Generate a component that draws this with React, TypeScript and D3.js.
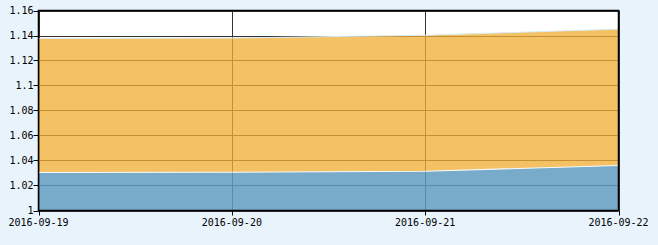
import React from "react";
import * as d3 from "d3";

const dates = ["2016-09-19", "2016-09-20", "2016-09-21", "2016-09-22"];
const unitNav = [1.1376, 1.138, 1.1402, 1.1451];
const accNav = [1.0304, 1.0306, 1.0314, 1.036];
const yTicks = [1, 1.02, 1.04, 1.06, 1.08, 1.1, 1.12, 1.14, 1.16];

const W = 658, H = 245;
const L = 38.5, R = 618.5, T = 10.5, B = 210.5;

export default function App() {
  const parse = d3.timeParse("%Y-%m-%d");
  const xs = dates.map((d) => parse(d) as Date);
  const x = d3.scaleTime().domain(d3.extent(xs) as [Date, Date]).range([L, R]);
  const y = d3.scaleLinear().domain([1, 1.16]).range([B, T]);
  const idx = dates.map((_, i) => i);

  const orangeArea = d3.area<number>()
    .x((i) => x(xs[i]))
    .y0((i) => y(accNav[i]))
    .y1((i) => y(unitNav[i]));
  const blueArea = d3.area<number>()
    .x((i) => x(xs[i]))
    .y0(B)
    .y1((i) => y(accNav[i]));
  const orangeLine = d3.line<number>().x((i) => x(xs[i])).y((i) => y(unitNav[i]));
  const blueLine = d3.line<number>().x((i) => x(xs[i])).y((i) => y(accNav[i]));
  const fmt = (v: number) => String(+v.toFixed(2));

  return (
    <svg width={W} height={H} style={{ position: "absolute", left: 0, top: 0, background: "#E8F3FC" }}>
      <rect x={L} y={T} width={R - L} height={B - T} fill="#fff" />
      {yTicks.map((t) => (
        <line key={t} x1={L} x2={R} y1={Math.round(y(t)) + 0.5} y2={Math.round(y(t)) + 0.5} stroke="#333" strokeWidth={1} />
      ))}
      {xs.map((d, i) => (
        <line key={i} x1={Math.round(x(d)) + 0.5} x2={Math.round(x(d)) + 0.5} y1={T} y2={B} stroke="#333" strokeWidth={1} />
      ))}
      <path d={orangeArea(idx) || ""} fill="#F2AE34" fillOpacity={0.76} />
      <path d={blueArea(idx) || ""} fill="#609CBF" fillOpacity={0.85} />
      <path d={orangeLine(idx) || ""} fill="none" stroke="#d6ecf4" strokeWidth={1} />
      <path d={blueLine(idx) || ""} fill="none" stroke="#f4f8fa" strokeWidth={1.2} />
      <rect x={L} y={T} width={R - L} height={B - T} fill="none" stroke="#000" strokeWidth={1.5} />
      {yTicks.map((t) => (
        <g key={t}>
          <line x1={L - 5} x2={L} y1={Math.round(y(t)) + 0.5} y2={Math.round(y(t)) + 0.5} stroke="#000" />
          <text x={L - 5} y={y(t)} dy="0.35em" textAnchor="end" fontFamily="DejaVu Sans Mono" fontSize={10} fill="#000">
            {fmt(t)}
          </text>
        </g>
      ))}
      {xs.map((d, i) => (
        <g key={i}>
          <line x1={Math.round(x(d)) + 0.5} x2={Math.round(x(d)) + 0.5} y1={B} y2={B + 5} stroke="#000" />
          <text x={x(d)} y={B + 15} textAnchor="middle" fontFamily="DejaVu Sans Mono" fontSize={10} fill="#000">
            {dates[i]}
          </text>
        </g>
      ))}
    </svg>
  );
}
